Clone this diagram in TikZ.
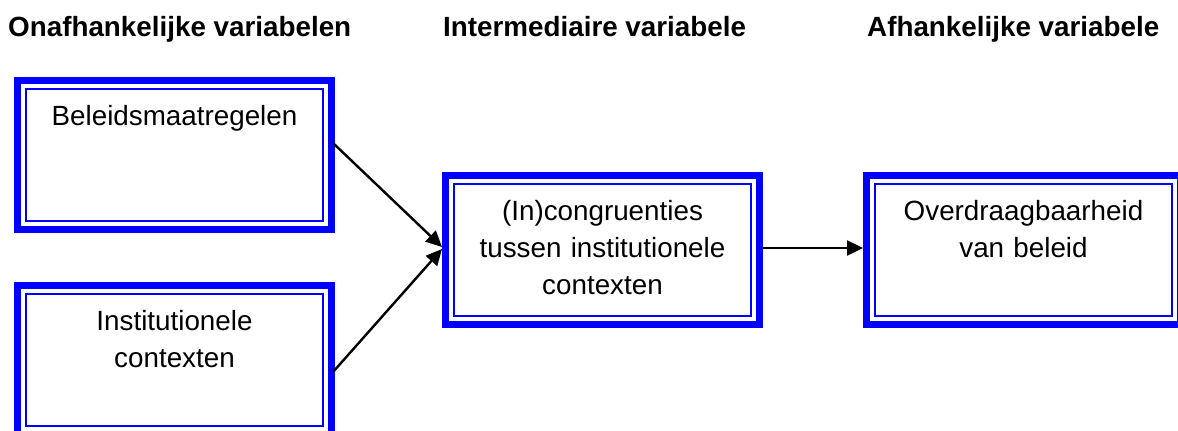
\documentclass[tikz,border=0pt]{standalone}
\usepackage{fontspec}
\setmainfont{Liberation Sans}
\usetikzlibrary{positioning,arrows.meta}

\begin{document}
\begin{tikzpicture}[x=0.5pt, y=-0.5pt, line width=1.2pt, >={Triangle[length=8pt,width=7.5pt]},
  var/.style={draw=blue, line width=1pt, inner sep=0pt, outer sep=0pt, minimum width=148.5pt, minimum height=66pt,
    text width=148.5pt, align=center, text height=18pt, text depth=48pt, font=\fontsize{13.9}{18.5}\selectfont},
  frame/.style={draw=blue, line width=3.5pt},
  head/.style={anchor=base west, inner sep=0pt, font=\fontsize{13.9}{16.7}\selectfont\bfseries}]
\useasboundingbox (0,0) rectangle (1178,430);
% column headings
\node[head] (hindep) at (7,36) {Onafhankelijke variabelen};
\node[head] (hinter) at (442,36) {Intermediaire variabele};
\node[head] (hdep) at (866,36) {Afhankelijke variabele};
% variables
\node[var] (bel) at (174.5,155) {Beleidsmaatregelen};
\node[var, below=36.5pt of bel] (inst) {Institutionele\\contexten};
\node[var] (cong) at (602.5,250) {(In)congruenties\\tussen institutionele\\contexten};
\node[var, right=62pt of cong] (over) {Overdraagbaarheid\\van beleid};
\foreach \n in {bel,inst,cong,over}
  \draw[frame] ([shift={(-4.25pt,4.25pt)}]\n.north west) rectangle ([shift={(4.25pt,-4.25pt)}]\n.south east);
% arrows
\draw[->] ([shift={(5pt,6pt)}]bel.east) -- ([shift={(-6pt,1.5pt)}]cong.west);
\draw[->] ([shift={(5pt,-6pt)}]inst.east) -- ([shift={(-6pt,0.5pt)}]cong.west);
\draw[->] ([shift={(6pt,1pt)}]cong.east) -- ([shift={(-6pt,1pt)}]over.west);
\end{tikzpicture}
\end{document}
